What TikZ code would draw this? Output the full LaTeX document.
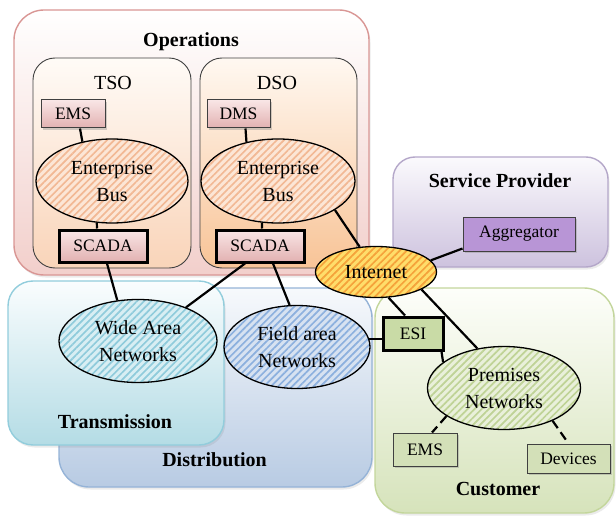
\documentclass[tikz,border=0pt]{standalone}
\usepackage{fontspec}
\setmainfont{Liberation Serif}
\usetikzlibrary{shapes.geometric,patterns.meta,shadows}

\definecolor{opsedge}{HTML}{D99694}
\definecolor{opsbot}{HTML}{F2CFCB}
\definecolor{tsotop}{HTML}{FFFBF7}
\definecolor{tsobot}{HTML}{F9D4B9}
\definecolor{dsotop}{HTML}{FFF8F1}
\definecolor{dsobot}{HTML}{F8C497}
\definecolor{svcedge}{HTML}{B4A7C9}
\definecolor{svctop}{HTML}{FBFAFD}
\definecolor{svcbot}{HTML}{CDC2DE}
\definecolor{trnedge}{HTML}{92CDDC}
\definecolor{trntop}{HTML}{FAFDFE}
\definecolor{trnbot}{HTML}{B4DCE5}
\definecolor{disedge}{HTML}{95B3D7}
\definecolor{distop}{HTML}{F7F9FC}
\definecolor{disbot}{HTML}{B8CBE3}
\definecolor{cusedge}{HTML}{C3D69B}
\definecolor{custop}{HTML}{FDFEFA}
\definecolor{cusbot}{HTML}{D6E3BB}
\definecolor{pinktop}{HTML}{F9E6E6}
\definecolor{pinkbot}{HTML}{E2B1B1}
\definecolor{greenunit}{HTML}{C9DBA6}
\definecolor{greenlight}{HTML}{D3E0B8}
\definecolor{aggfill}{HTML}{B895D6}
\definecolor{busbase}{HTML}{FCE6D6}
\definecolor{busline}{HTML}{F2B894}
\definecolor{netbase}{HTML}{FFDD6A}
\definecolor{netline}{HTML}{F5A23A}
\definecolor{wanbase}{HTML}{D8EEF3}
\definecolor{wanline}{HTML}{8FCBDB}
\definecolor{fanbase}{HTML}{D7E2F1}
\definecolor{fanline}{HTML}{8CB0DE}
\definecolor{prembase}{HTML}{E9F0DA}
\definecolor{premline}{HTML}{BFD396}

\begin{document}
\begin{tikzpicture}[x=1pt,y=-1pt,
  region/.style={rectangle, line width=1.4pt, inner sep=0pt,
    drop shadow={opacity=0.16, shadow xshift=1.5pt, shadow yshift=-2.5pt}},
  operator/.style={rectangle, draw=black!75, line width=0.9pt, inner sep=0pt,
    rounded corners=22pt, minimum width=158pt, minimum height=210pt},
  title/.style={font=\bfseries\fontsize{20}{24}\selectfont, inner sep=0pt, anchor=base},
  heading/.style={font=\fontsize{20}{24}\selectfont, inner sep=0pt, anchor=base},
  cloud/.style={ellipse, draw=black, line width=1.3pt, inner sep=0pt, align=center,
    font=\fontsize{20}{27}\selectfont},
  % base colour and diagonal stripes go under the outline
  hatch/.style 2 args={preaction={fill=#1},
    preaction={pattern={Lines[angle=45,distance=5pt,line width=1.7pt]}, pattern color=#2}},
  unit/.style={rectangle, draw=black!75, line width=1pt, inner sep=0pt,
    font=\fontsize{17.5}{20}\selectfont,
    drop shadow={opacity=0.35, shadow xshift=2pt, shadow yshift=-2pt}},
  pinkunit/.style={unit, top color=pinktop, bottom color=pinkbot},
  heavy/.style={line width=3pt, draw=black},
  link/.style={line width=2.2pt},
  dashlink/.style={link, dash pattern=on 9pt off 5pt}]

\useasboundingbox (0,0) rectangle (616,516);

% ---------- regions ----------
\node[region, draw=opsedge, top color=white, bottom color=opsbot, rounded corners=30pt,
      minimum width=355pt, minimum height=265pt] (ops) at (191.5,142.5) {};
\node[operator, top color=tsotop, bottom color=tsobot] (tso) at (112,163) {};
\node[operator, top color=dsotop, bottom color=dsobot, minimum width=157pt] (dso) at (278.5,163) {};

\node[region, draw=svcedge, top color=svctop, bottom color=svcbot, rounded corners=22pt,
      minimum width=215pt, minimum height=110pt] (svc) at (500.5,212) {};
\node[region, draw=disedge, top color=distop, bottom color=disbot, rounded corners=30pt,
      minimum width=313pt, minimum height=199pt] (dist) at (215.5,387.5) {};
\node[region, draw=trnedge, top color=trntop, bottom color=trnbot, rounded corners=25pt,
      minimum width=216pt, minimum height=164pt] (trans) at (116,363) {};
\node[region, draw=cusedge, top color=custop, bottom color=cusbot, rounded corners=30pt,
      minimum width=239pt, minimum height=225pt] (cust) at (494.5,400.5) {};

% ---------- region titles ----------
\node[title] (opsT) at (191,46.5) {Operations};
\node[heading] (tsoT) at (113,90) {TSO};
\node[heading] (dsoT) at (277,90) {DSO};
\node[title] (svcT) at (500,188) {Service Provider};
\node[title] (transT) at (115,428) {Transmission};
\node[title] (distT) at (214.5,466) {Distribution};
\node[title] (custT) at (498,495) {Customer};

% ---------- networks ----------
\node[cloud, hatch={busbase}{busline}, minimum width=152pt, minimum height=84pt] (bus1) at (112,181) {Enterprise\\Bus};
\node[cloud, hatch={busbase}{busline}, minimum width=154pt, minimum height=84pt] (bus2) at (278,181) {Enterprise\\Bus};
\node[cloud, hatch={netbase}{netline}, minimum width=121pt, minimum height=51pt] (net) at (376,272) {Internet};
\node[cloud, hatch={wanbase}{wanline}, minimum width=158pt, minimum height=83pt] (wan) at (138,341) {Wide Area\\Networks};
\node[cloud, hatch={fanbase}{fanline}, minimum width=146pt, minimum height=83pt] (fan) at (297,347) {Field area\\Networks};
\node[cloud, hatch={prembase}{premline}, minimum width=153pt, minimum height=83pt] (prem) at (504,388) {Premises\\Networks};

% ---------- units ----------
\node[pinkunit, minimum width=64pt, minimum height=28pt] (ems1) at (73,114) {EMS};
\node[pinkunit, minimum width=63pt, minimum height=28pt] (dms) at (238.5,114) {DMS};
\node[pinkunit, heavy, minimum width=88pt, minimum height=32pt] (scada1) at (103,246) {SCADA};
\node[pinkunit, heavy, minimum width=88pt, minimum height=32pt] (scada2) at (260,246) {SCADA};
\node[unit, fill=aggfill, minimum width=112pt, minimum height=34pt] (agg) at (519,234) {Aggregator};
\node[unit, heavy, fill=greenunit, minimum width=60pt, minimum height=33pt] (esi) at (413,333.5) {ESI};
\node[unit, fill=greenlight, minimum width=64pt, minimum height=33pt] (ems2) at (425,449.5) {EMS};
\node[unit, fill=greenlight, minimum width=83pt, minimum height=29pt] (dev) at (568.5,458.5) {Devices};

% ---------- connectors ----------
\draw[link] ([xshift=7pt]ems1.south) -- (bus1.127);
\draw[link] (bus1.250) -- ([xshift=-6pt]scada1.north);
\draw[link] ([xshift=7pt]dms.south) -- (bus2.129);
\draw[link] (bus2.249) -- ([xshift=2pt]scada2.north);
\draw[link] (bus2.333) -- (net.123);
\draw[link] ([xshift=4pt]scada1.south) -- (wan.117);
\draw[link] ([xshift=-15pt]scada2.south) -- (wan.35);
\draw[link] ([xshift=13pt]scada2.south) -- (fan.100);
\draw[link] (fan.6) -- (fan.6 -| esi.west);
\draw[link] (net.12) -- ([yshift=3pt]agg.south west);
\draw[link] (net.296) -- ([xshift=-8pt]esi.north);
\draw[link] (net.339) -- (prem.124);
\draw[link] ([xshift=-3pt]esi.south east) -- (prem.157);
\draw[dashlink] (prem.206) -- ([xshift=7pt]ems2.north);
\draw[dashlink] (prem.326) -- (dev.north);
\end{tikzpicture}
\end{document}
